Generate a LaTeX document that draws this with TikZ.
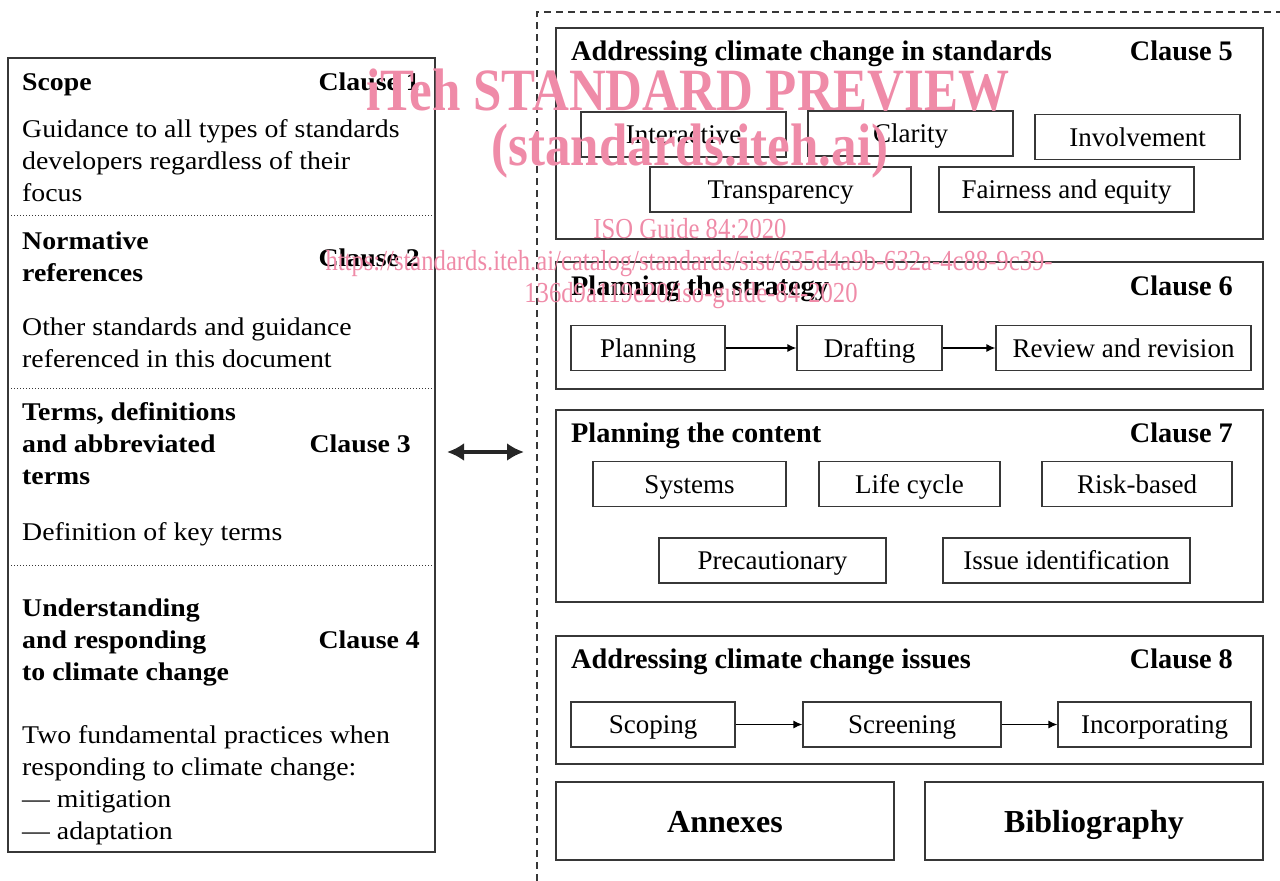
\documentclass[tikz,border=0pt]{standalone}
\usepackage{fontspec}
\setmainfont{Liberation Serif}
\newfontfamily\leftfont[FakeStretch=1.09]{Liberation Serif}
\newfontfamily\markfont[FakeStretch=0.85]{Liberation Serif}
\usetikzlibrary{arrows.meta}
\definecolor{linegray}{RGB}{55,55,55}
\definecolor{markpink}{RGB}{239,139,168}

\tikzset{
  frame/.style={draw=linegray, line width=1.2pt, inner sep=0pt},
  item/.style={frame, minimum height=45pt, text height=18pt, text depth=0pt, font=\fontsize{27}{27}\selectfont},
  title/.style={anchor=base west, inner sep=0pt, font=\bfseries\fontsize{28.3}{28}\selectfont},
  clause/.style={anchor=base east, inner sep=0pt, font=\bfseries\fontsize{28.3}{28}\selectfont},
  lhead/.style={anchor=base west, inner sep=0pt, align=left, font=\leftfont\bfseries\fontsize{25.5}{32}\selectfont},
  lclause/.style={anchor=base east, inner sep=0pt, font=\leftfont\bfseries\fontsize{25.5}{32}\selectfont},
  lbody/.style={anchor=base west, inner sep=0pt, align=left, font=\leftfont\fontsize{25.5}{32}\selectfont},
  sep/.style={dotted, line width=1pt, draw=linegray},
  flow/.style={-{Latex[length=9pt,width=8pt]}, line width=1.3pt, draw=black},
  wmark/.style={anchor=base, inner sep=0pt, text=markpink},
}

\begin{document}
\begin{tikzpicture}[x=1pt,y=-1pt]
\useasboundingbox (0,0) rectangle (1280,881);

% left column: clauses 1 to 4 (multi-line texts sit on their last baseline)
\node[frame, line width=1.6pt, minimum width=427, minimum height=794] (scope) at (221.5,455) {};
\foreach \y in {215,388,565}
  \draw[sep] (8,\y) -- (435,\y);

\node[lhead] (h1) at (22,90) {Scope};
\node[lclause] (k1) at (420,90) {Clause 1};
\node[lbody] (b1) at (22,201) {Guidance to all types of standards\\developers regardless of their\\focus};

\node[lhead] (h2) at (22,281) {Normative\\references};
\node[lclause] (k2) at (420,266) {Clause 2};
\node[lbody] (b2) at (22,367) {Other standards and guidance\\referenced in this document};

\node[lhead] (h3) at (22,484) {Terms, definitions\\and abbreviated\\terms};
\node[lclause] (k3) at (411,452) {Clause 3};
\node[lbody] (b3) at (22,540) {Definition of key terms};

\node[lhead] (h4) at (22,680) {Understanding\\and responding\\to climate change};
\node[lclause] (k4) at (420,648) {Clause 4};
\node[lbody] (b4) at (22,839) {Two fundamental practices when\\responding to climate change:\\— mitigation\\— adaptation};

% link between the two halves
\coordinate (linkL) at (447,452);
\coordinate (linkR) at (524,452);
\draw[{Latex[length=17pt,width=18pt]}-{Latex[length=17pt,width=18pt]}, line width=4.5pt, draw=black!85] (linkL) -- (linkR);

\draw[dashed, dash pattern=on 7pt off 5pt, line width=1.3pt, draw=linegray] (537,881) -- (537,12) -- (1280,12);

% clause 5
\node[frame, minimum width=707, minimum height=211] (c5) at (909.5,133.5) {};
\node[title] (t5) at (571,60) {Addressing climate change in standards};
\node[clause] (n5) at (1233,60) {Clause 5};
\node[item, minimum width=205] (inter) at (683.5,134.5) {Interactive};
\node[item, minimum width=205] (clar) at (910.5,133.5) {Clarity};
\node[item, minimum width=205] (invol) at (1137.5,137) {Involvement};
\node[item, minimum width=261] (trans) at (780.5,189.5) {Transparency};
\node[item, minimum width=255] (fair) at (1066.5,189.5) {Fairness and equity};

% clause 6
\node[frame, minimum width=707, minimum height=127] (c6) at (909.5,325.5) {};
\node[title] (t6) at (571,295) {Planning the strategy};
\node[clause] (n6) at (1233,295) {Clause 6};
\node[item, minimum width=154] (plan) at (648,348) {Planning};
\node[item, minimum width=145] (draft) at (869.5,348) {Drafting};
\node[item, minimum width=255] (review) at (1123.5,348) {Review and revision};
\draw[flow] (plan) -- (draft);
\draw[flow] (draft) -- (review);

% clause 7
\node[frame, minimum width=707, minimum height=192] (c7) at (909.5,506) {};
\node[title] (t7) at (571,442) {Planning the content};
\node[clause] (n7) at (1233,442) {Clause 7};
\node[item, minimum width=193] (sys) at (689.5,484) {Systems};
\node[item, minimum width=181] (life) at (909.5,484) {Life cycle};
\node[item, minimum width=190] (risk) at (1137,484) {Risk-based};
\node[item, minimum width=227] (prec) at (772.5,560.5) {Precautionary};
\node[item, minimum width=247] (issue) at (1066.5,560.5) {Issue identification};

% clause 8
\node[frame, minimum width=707, minimum height=128] (c8) at (909.5,700) {};
\node[title] (t8) at (571,668) {Addressing climate change issues};
\node[clause] (n8) at (1233,668) {Clause 8};
\node[item, minimum width=164] (scop) at (653,724.5) {Scoping};
\node[item, minimum width=198] (screen) at (902,724.5) {Screening};
\node[item, minimum width=193] (incorp) at (1154.5,724.5) {Incorporating};
\draw[flow] (scop) -- (screen);
\draw[flow] (screen) -- (incorp);

% annexes and bibliography
\node[frame, minimum width=338, minimum height=78, text height=22pt, text depth=0pt, font=\bfseries\fontsize{32}{32}\selectfont] (annex) at (725,821) {Annexes};
\node[frame, minimum width=338, minimum height=78, text height=22pt, text depth=0pt, font=\bfseries\fontsize{32}{32}\selectfont] (biblio) at (1094,821) {Bibliography};

% watermark
\node[wmark, font=\markfont\bfseries\fontsize{60}{60}\selectfont] (wm1) at (688,110) {iTeh STANDARD PREVIEW};
\node[wmark, font=\markfont\bfseries\fontsize{60}{60}\selectfont] (wm2) at (690,165) {(standards.iteh.ai)};
\node[wmark, font=\markfont\fontsize{29}{29}\selectfont] (wm3) at (690,238) {ISO Guide 84:2020};
\node[wmark, font=\markfont\fontsize{29}{29}\selectfont] (wm4) at (689,270) {https://standards.iteh.ai/catalog/standards/sist/635d4a9b-632a-4c88-9c39-};
\node[wmark, font=\markfont\fontsize{29}{29}\selectfont] (wm5) at (691,302) {136d9a119e20/iso-guide-84-2020};
\end{tikzpicture}
\end{document}
